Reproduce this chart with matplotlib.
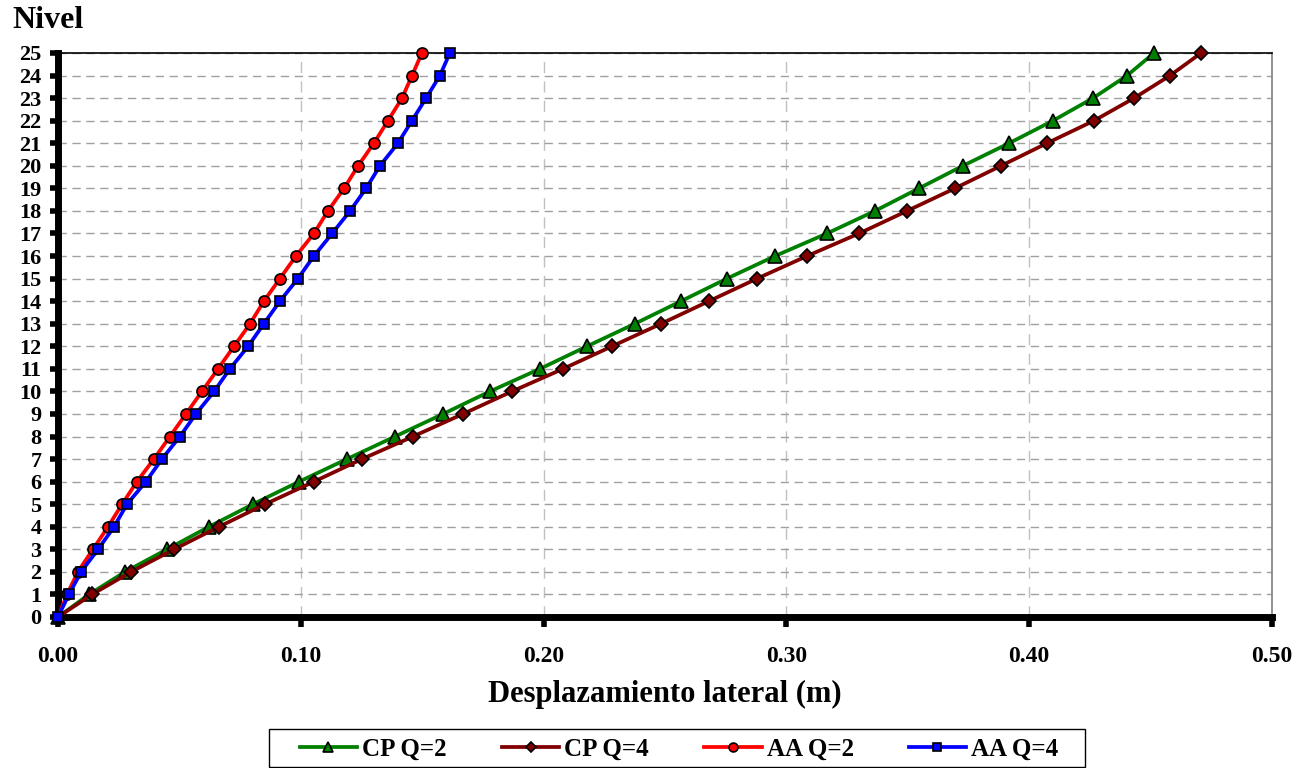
import matplotlib
matplotlib.use("Agg")
import matplotlib.pyplot as plt
import matplotlib.patches as mpatches
from matplotlib.ticker import MultipleLocator, FormatStrFormatter

plt.rcParams['font.family'] = ['Liberation Serif', 'DejaVu Serif']
plt.rcParams['font.weight'] = 'bold'

niveles = list(range(0, 26))

cp_q2 = [0.0, 0.0128, 0.0276, 0.0449, 0.0622, 0.0803, 0.0993, 0.1190, 0.1388,
         0.1586, 0.1779, 0.1985, 0.2179, 0.2376, 0.2566, 0.2755, 0.2953, 0.3167,
         0.3365, 0.3546, 0.3727, 0.3917, 0.4098, 0.4263, 0.4403, 0.4514]
cp_q4 = [0.0, 0.0140, 0.0301, 0.0478, 0.0663, 0.0853, 0.1054, 0.1252, 0.1462,
         0.1668, 0.1870, 0.2080, 0.2282, 0.2484, 0.2681, 0.2879, 0.3085, 0.3299,
         0.3497, 0.3694, 0.3884, 0.4073, 0.4267, 0.4432, 0.4580, 0.4708]
aa_q2 = [0.0, 0.0037, 0.0082, 0.0144, 0.0206, 0.0264, 0.0325, 0.0395, 0.0461,
         0.0527, 0.0593, 0.0659, 0.0725, 0.0791, 0.0848, 0.0914, 0.0980, 0.1054,
         0.1112, 0.1178, 0.1236, 0.1301, 0.1359, 0.1417, 0.1458, 0.1499]
aa_q4 = [0.0, 0.0045, 0.0095, 0.0165, 0.0231, 0.0284, 0.0362, 0.0428, 0.0502,
         0.0568, 0.0643, 0.0708, 0.0783, 0.0848, 0.0914, 0.0988, 0.1054, 0.1129,
         0.1203, 0.1269, 0.1326, 0.1400, 0.1458, 0.1516, 0.1573, 0.1614]

W, H = 1310, 768
fig = plt.figure(figsize=(W / 100, H / 100), dpi=100)
ax = fig.add_axes([58/W, 1 - 617/H, (1272-58)/W, (617-53)/H])

ax.plot(cp_q2, niveles, color='#008000', lw=2.7, marker='^', ms=9.5,
        mfc='#008000', mec='black', mew=1.2, label='CP Q=2', clip_on=False, zorder=3)
ax.plot(cp_q4, niveles, color='#800000', lw=2.7, marker='D', ms=7,
        mfc='#800000', mec='black', mew=1.2, label='CP Q=4', clip_on=False, zorder=4)
ax.plot(aa_q2, niveles, color='#FF0000', lw=2.7, marker='o', ms=8,
        mfc='#FF0000', mec='black', mew=1.2, label='AA Q=2', clip_on=False, zorder=5)
ax.plot(aa_q4, niveles, color='#0000FF', lw=2.7, marker='s', ms=7.5,
        mfc='#0000FF', mec='black', mew=1.2, label='AA Q=4', clip_on=False, zorder=6)

ax.set_xlim(0, 0.5)
ax.set_ylim(0, 25)
ax.xaxis.set_major_locator(MultipleLocator(0.1))
ax.xaxis.set_major_formatter(FormatStrFormatter('%.2f'))
ax.yaxis.set_major_locator(MultipleLocator(1))

ax.yaxis.grid(True, color='#a0a0a0', ls=(0, (6, 4)), lw=1.0)
ax.xaxis.grid(True, color='#c0c0c0', ls=(0, (8, 6)), lw=1.0)
ax.set_axisbelow(True)

ax.spines['left'].set_linewidth(5)
ax.spines['bottom'].set_linewidth(5)
ax.spines['top'].set_linewidth(1.2)
ax.spines['right'].set_linewidth(1.2)
ax.spines['right'].set_color('#808080')

ax.tick_params(axis='y', direction='out', length=6, width=4, labelsize=16, pad=6)
ax.tick_params(axis='x', direction='out', length=7, width=4, labelsize=17, pad=14)
for lbl in ax.get_xticklabels() + ax.get_yticklabels():
    lbl.set_fontweight('bold')

ax.set_xlabel('Desplazamiento lateral (m)', fontsize=22, fontweight='bold', va='center')
ax.xaxis.set_label_coords(0.5, (617 - 694) / 564)
fig.text(12/W, 1 - 21/H, 'Nivel', fontsize=23, fontweight='bold', va='center', ha='left')

# legend box drawn by hand so the side padding matches
box = mpatches.Rectangle((269/W, 1 - 767/H), (1085-269)/W, (767-729)/H,
                         transform=fig.transFigure, fill=False,
                         edgecolor='black', lw=1.0)
fig.patches.append(box)
leg = ax.legend(loc='center', bbox_to_anchor=(679/W, 1 - 749/H),
                bbox_transform=fig.transFigure, ncol=4, frameon=False,
                handlelength=2.3, handletextpad=0.2, columnspacing=2.2,
                borderpad=0.0, markerscale=0.8, prop={'weight': 'bold', 'size': 18})

fig.savefig('out.png', dpi=100)
